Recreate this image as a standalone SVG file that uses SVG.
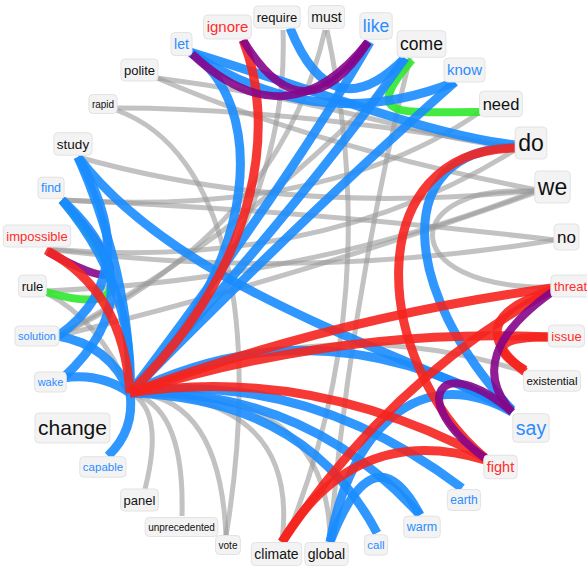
<svg xmlns="http://www.w3.org/2000/svg" width="587" height="572" viewBox="0 0 587 572">
<style>
.e{fill:none}
.k{stroke:#999;stroke-opacity:.6;stroke-width:5}
.b{stroke:#1a8cff;stroke-opacity:.9;stroke-width:9}
.r{stroke:#f5231e;stroke-opacity:.9;stroke-width:9}
.p{stroke:#85068a;stroke-opacity:.9;stroke-width:8}
.g{stroke:#2ee82e;stroke-opacity:.9;stroke-width:8}
.node rect{fill:#f3f3f3;stroke:#e3e3e3;stroke-width:1}
.node text{font-family:"Liberation Sans",Arial,sans-serif;text-anchor:middle}
.tk{fill:#111}
.tb{fill:#2b8cff}
.tr{fill:#ff2d2d}
</style>
<rect width="587" height="572" fill="#fff"/>
<g id="connectors" class="e">
<path class="k" d="M130,393 Q165,410 145,489"/>
<path class="k" d="M130,393 Q185,405 182,516"/>
<path class="k" d="M130,393 Q220,395 226,536"/>
<path class="k" d="M130,393 Q300,395 282,542"/>
<path class="k" d="M130,393 Q330,385 330,542"/>
<path class="k" d="M327,30 Q385,300 285,542"/>
<path class="k" d="M410,58 Q350,300 330,542"/>
<path class="k" d="M283,30 Q290,220 130,393"/>
<path class="k" d="M157,78 Q314,146 537,190"/>
<path class="k" d="M116,108 Q284,108 515,147"/>
<path class="k" d="M116,110 C230,150 260,330 226,536"/>
<path class="k" d="M48,249 Q300,282 555,240"/>
<path class="k" d="M46,291 Q309,280 537,190"/>
<path class="k" d="M537,192 C400,180 390,290 553,287"/>
<path class="k" d="M555,240 Q300,210 62,200"/>
<path class="k" d="M537,190 Q291,217 78,157"/>
<path class="k" d="M515,147 C430,140 330,100 157,78"/>
<path class="k" d="M480,112 Q329,217 62,200"/>
<path class="k" d="M410,60 Q264,223 58,336"/>
<path class="k" d="M515,150 Q319,272 48,249"/>
<path class="k" d="M537,192 Q301,277 58,336"/>
<path class="k" d="M130,393 Q330,308 525,372"/>
<path class="k" d="M46,293 Q100,320 130,393"/>
<path class="k" d="M325,30 Q280,230 58,336"/>
<path class="p" d="M62,200 Q165,316 48,252"/>
<path class="g" d="M62,200 Q168,327 46,292"/>
<path class="g" d="M412,60 C360,120 400,112 480,112"/>
<path class="b" d="M190,52 Q317,137 455,82"/>
<path class="b" d="M515,145 C430,135 330,95 190,52"/>
<path class="b" d="M190,52 C265,100 265,260 130,393"/>
<path class="b" d="M370,42 Q289,183 130,393"/>
<path class="b" d="M405,58 Q309,195 130,393"/>
<path class="b" d="M455,82 Q307,213 130,393"/>
<path class="b" d="M290,28 Q332,132 405,58"/>
<path class="b" d="M515,147 C390,150 400,290 512,410"/>
<path class="b" d="M78,157 C180,290 400,350 512,410"/>
<path class="b" d="M78,157 Q131,277 130,393"/>
<path class="b" d="M62,200 Q135,286 130,393"/>
<path class="b" d="M58,336 Q110,345 130,393"/>
<path class="b" d="M58,336 Q146,274 78,157"/>
<path class="b" d="M63,378 Q100,372 130,393"/>
<path class="b" d="M63,378 Q160,288 62,200"/>
<path class="b" d="M108,456 Q135,430 130,393"/>
<path class="b" d="M130,393 Q305,369 462,488"/>
<path class="b" d="M130,393 Q304,387 420,515"/>
<path class="b" d="M130,393 Q306,398 377,533"/>
<path class="b" d="M130,393 Q317,300 512,410"/>
<path class="b" d="M330,542 C350,430 420,360 512,412"/>
<path class="b" d="M330,542 Q374,428 420,515"/>
<path class="r" d="M243,40 C275,120 265,260 130,393"/>
<path class="r" d="M552,288 Q338,317 130,393"/>
<path class="r" d="M550,337 Q340,327 130,393"/>
<path class="r" d="M130,393 Q311,365 485,458"/>
<path class="r" d="M515,148 C360,150 370,360 485,458"/>
<path class="r" d="M552,290 Q392,377 282,542"/>
<path class="r" d="M485,460 Q355,421 282,542"/>
<path class="r" d="M46,250 Q123,290 130,393"/>
<path class="r" d="M550,337 Q470,337 525,370"/>
<path class="r" d="M552,290 Q458,320 525,372"/>
<path class="p" d="M192,54 Q288,144 368,42"/>
<path class="p" d="M243,40 Q304,141 368,42"/>
<path class="p" d="M552,292 Q462,356 512,412"/>
<path class="p" d="M512,412 C440,350 405,400 485,458"/>
</g>
<g id="n-let" class="node"><rect x="171" y="32.5" width="21" height="23" rx="4"/><text class="tb" x="181.5" y="48.9" font-size="14">let</text></g>
<g id="n-ignore" class="node"><rect x="203.6" y="15" width="47.7" height="24" rx="4"/><text class="tr" x="227.5" y="32.2" font-size="15">ignore</text></g>
<g id="n-require" class="node"><rect x="253.8" y="6" width="46.4" height="22" rx="4"/><text class="tk" x="277" y="21.5" font-size="13">require</text></g>
<g id="n-must" class="node"><rect x="308.3" y="5.5" width="36.3" height="23" rx="4"/><text class="tk" x="326.5" y="21.9" font-size="14">must</text></g>
<g id="n-like" class="node"><rect x="359.9" y="12.7" width="32.3" height="26.5" rx="4"/><text class="tb" x="376" y="32.1" font-size="17.5">like</text></g>
<g id="n-come" class="node"><rect x="397.1" y="30.7" width="48.8" height="26.5" rx="4"/><text class="tk" x="421.5" y="50.1" font-size="17.5">come</text></g>
<g id="n-know" class="node"><rect x="444" y="58" width="41" height="24" rx="4"/><text class="tb" x="464.5" y="75.2" font-size="15">know</text></g>
<g id="n-need" class="node"><rect x="479.6" y="91.2" width="42.7" height="25.5" rx="4"/><text class="tk" x="501" y="109.8" font-size="16.5">need</text></g>
<g id="n-do" class="node"><rect x="515.2" y="127" width="31.6" height="32" rx="4"/><text class="tk" x="531" y="151" font-size="23">do</text></g>
<g id="n-we" class="node"><rect x="534.8" y="171" width="35.4" height="32" rx="4"/><text class="tk" x="552.5" y="195" font-size="23">we</text></g>
<g id="n-no" class="node"><rect x="554" y="224" width="24.9" height="26" rx="4"/><text class="tk" x="566.5" y="243" font-size="17">no</text></g>
<g id="n-threat" class="node"><rect x="550.9" y="275" width="39.2" height="22" rx="4"/><text class="tr" x="570.5" y="290.5" font-size="13">threat</text></g>
<g id="n-issue" class="node"><rect x="548.3" y="325" width="36.3" height="22" rx="4"/><text class="tr" x="566.5" y="340.5" font-size="13">issue</text></g>
<g id="n-existential" class="node"><rect x="523.4" y="370.7" width="57.1" height="20.5" rx="4"/><text class="tk" x="552" y="385" font-size="11.5">existential</text></g>
<g id="n-say" class="node"><rect x="512.8" y="413.7" width="36.3" height="28.5" rx="4"/><text class="tb" x="531" y="434.8" font-size="19.5">say</text></g>
<g id="n-fight" class="node"><rect x="483.8" y="455.2" width="33.4" height="23.5" rx="4"/><text class="tr" x="500.5" y="472" font-size="14.5">fight</text></g>
<g id="n-earth" class="node"><rect x="447.3" y="489.5" width="33.3" height="21" rx="4"/><text class="tb" x="464" y="504.2" font-size="12">earth</text></g>
<g id="n-warm" class="node"><rect x="403.7" y="516.2" width="36.5" height="21.5" rx="4"/><text class="tb" x="422" y="531.4" font-size="12.5">warm</text></g>
<g id="n-call" class="node"><rect x="364.4" y="534.7" width="23.3" height="20.5" rx="4"/><text class="tb" x="376" y="549" font-size="11.5">call</text></g>
<g id="n-global" class="node"><rect x="304.8" y="542.5" width="43.4" height="23" rx="4"/><text class="tk" x="326.5" y="559" font-size="14">global</text></g>
<g id="n-climate" class="node"><rect x="251.3" y="542.5" width="50.3" height="23" rx="4"/><text class="tk" x="276.5" y="559" font-size="14">climate</text></g>
<g id="n-vote" class="node"><rect x="215.5" y="535.5" width="24.9" height="19" rx="4"/><text class="tk" x="228" y="548.5" font-size="10">vote</text></g>
<g id="n-unprecedented" class="node"><rect x="145.1" y="517.5" width="72.7" height="19" rx="4"/><text class="tk" x="181.5" y="530.5" font-size="10">unprecedented</text></g>
<g id="n-panel" class="node"><rect x="120.6" y="489" width="37.8" height="22" rx="4"/><text class="tk" x="139.5" y="504.5" font-size="13">panel</text></g>
<g id="n-capable" class="node"><rect x="79.8" y="456.7" width="46.3" height="20.5" rx="4"/><text class="tb" x="103" y="471" font-size="11.5">capable</text></g>
<g id="n-change" class="node"><rect x="35" y="413" width="74.9" height="30" rx="4"/><text class="tk" x="72.5" y="435.3" font-size="21">change</text></g>
<g id="n-wake" class="node"><rect x="34.6" y="372" width="31.7" height="20" rx="4"/><text class="tb" x="50.5" y="385.8" font-size="11">wake</text></g>
<g id="n-solution" class="node"><rect x="15" y="326" width="43.9" height="20" rx="4"/><text class="tb" x="37" y="339.8" font-size="11">solution</text></g>
<g id="n-rule" class="node"><rect x="18.6" y="275" width="27.7" height="22" rx="4"/><text class="tk" x="32.5" y="290.5" font-size="13">rule</text></g>
<g id="n-impossible" class="node"><rect x="3.3" y="225" width="67.4" height="22" rx="4"/><text class="tr" x="37" y="240.5" font-size="13">impossible</text></g>
<g id="n-find" class="node"><rect x="37.9" y="177.2" width="26.2" height="21.5" rx="4"/><text class="tb" x="51" y="192.4" font-size="12.5">find</text></g>
<g id="n-study" class="node"><rect x="53.8" y="132.7" width="38.3" height="22.5" rx="4"/><text class="tk" x="73" y="148.7" font-size="13.5">study</text></g>
<g id="n-rapid" class="node"><rect x="88.9" y="94.5" width="28.2" height="19" rx="4"/><text class="tk" x="103" y="107.5" font-size="10">rapid</text></g>
<g id="n-polite" class="node"><rect x="120.9" y="59" width="37.1" height="22" rx="4"/><text class="tk" x="139.5" y="74.5" font-size="13">polite</text></g>
</svg>
